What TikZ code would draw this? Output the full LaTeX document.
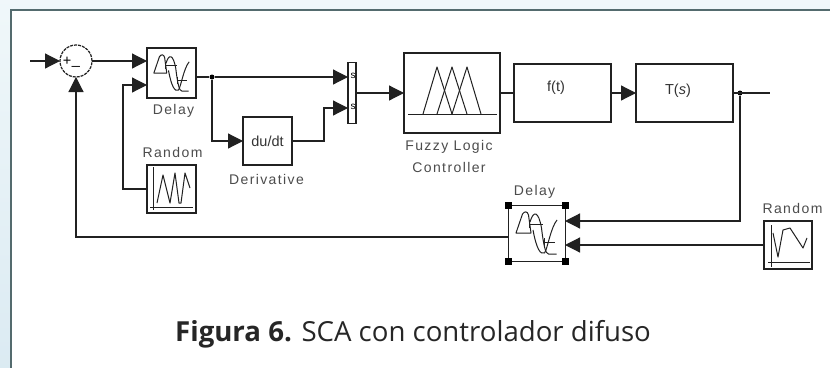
\documentclass[tikz,border=0pt]{standalone}
\usepackage{fontspec}
\setmainfont{Open Sans}
\setsansfont{Liberation Sans}
\newfontfamily\simfont[LetterSpace=10]{Liberation Sans}
\usetikzlibrary{arrows.meta}

\begin{document}
\begin{tikzpicture}[x=1pt,y=-1pt,font=\sffamily]

		\definecolor{FrameGray}{rgb}{0.33,0.42,0.43}
		\definecolor{PageBlue}{rgb}{0.94,0.97,0.98}
		\definecolor{PageBlueDark}{rgb}{0.86,0.92,0.95}
		\definecolor{LineGray}{rgb}{0.13,0.13,0.13}

		\tikzset{
			simBlock/.style={
				draw=LineGray,
				line width=1.2pt,
				inner sep=0,
				outer sep=0pt,
			},
			simLabel/.style={
				font=\simfont\fontsize{14}{16}\selectfont,
				text=black!70,
				inner sep=0,
				align=center,
			},
			simText/.style={
				font=\sffamily\fontsize{14.5}{16}\selectfont,
				text=black!80,
				inner sep=0,
			},
			simWire/.style={
				draw=LineGray,
				line width=1.2pt,
			},
			simArrow/.style={
				simWire,
				-{Triangle[length=15pt,width=15pt]},
			},
			simIcon/.style={
				draw=LineGray,
				line width=1pt,
				line join=round,
			},
			simDot/.style={
				circle,
				fill=black,
				minimum size=5pt,
				inner sep=0,
			},
			delayIcon/.pic={
				\draw[simIcon] (-20.5,0) -- (-14,-19) .. controls (-12,-22) and (-9,-22) .. (-8,-18) -- (-5.5,0) -- cycle;
				\draw[simIcon] (-6.5,-11) .. controls (-3,-23) and (2,-22) .. (5,-5) .. controls (7,12) and (9,21) .. (12,21) -- (20,21);
				\draw[simIcon] (-3.5,-3) .. controls (0,16) and (4,22) .. (8,20) .. controls (11,16) and (14,-5) .. (20.5,-13);
				\draw[simIcon] (-7,-13) -- (-7,-5);
				\draw[simIcon] (-7,-9) -- (6,-9);
				\draw[simIcon] (7.5,5) -- (7.5,13);
				\draw[simIcon] (7.5,9) -- (18,9);
			},
		}

		% Background
		\useasboundingbox (0,0) rectangle (830,367);
		\shade[top color=PageBlue,bottom color=PageBlueDark] (0,0) rectangle (830,367);
		\fill[white] (11,10) rectangle (832,369);
		\draw[FrameGray,line width=2.4pt] (11,369) -- (11,10) -- (832,10);

		% Sum
		\node[simBlock,circle,dash pattern=on 3pt off 1pt,minimum size=32pt] (sum) at (76,61) {};
		\node[simText,text=black] (plus) at (67,61) {+};
		\node[simText,text=black] (minus) at (76,66) {\_};
		\coordinate (start) at (30,61);

		% Delay
		\node[simBlock,minimum width=49pt,minimum height=50pt] (delayIn) at (171.5,73) {};
		\node[simLabel] (delayInLabel) at (173.5,111) {Delay};
		\pic[scale=0.86] (delayInIcon) at (171.5,73) {delayIcon};

		% Random
		\node[simBlock,minimum width=49pt,minimum height=48pt] (randomIn) at (171.5,189) {};
		\node[simLabel] (randomInLabel) at (172.5,152) {Random};
		\draw[simIcon] (153,167) -- (153,210);
		\draw[simIcon] (150,207) -- (193,207);
		\draw[simIcon] (157,203) -- (163,175) -- (170,203) -- (175,173) -- (179,203) -- (181,203) -- (185,173) -- (190,188);

		% Derivative
		\node[simBlock,minimum width=49pt,minimum height=48pt,simText] (deriv) at (267.5,141) {du/dt};
		\node[simLabel] (derivLabel) at (266.5,179) {Derivative};

		% Mux
		\node[simBlock,minimum width=8pt,minimum height=61pt] (mux) at (352,93) {};
		\node[inner sep=0,font=\sffamily\fontsize{10}{11}\selectfont] (muxA) at (353,76) {s};
		\node[inner sep=0,font=\sffamily\fontsize{10}{11}\selectfont] (muxB) at (353,107) {s};

		% Fuzzy
		\node[simBlock,minimum width=96pt,minimum height=80pt] (fuzzy) at (452,93) {};
		\node[simLabel] (fuzzyLabel) at (449,147) {Fuzzy Logic};
		\node[simLabel] (fuzzyLabelB) at (449,167) {Controller};
		\draw[simIcon] (408,114) -- (497,114);
		\draw[simIcon] (423,114) -- (437,67) -- (452,114);
		\draw[simIcon] (437,114) -- (452,67) -- (467,114);
		\draw[simIcon] (452,114) -- (467,67) -- (481,114);

		% Function
		\node[simBlock,minimum width=97pt,minimum height=58pt] (func) at (562.5,93) {};
		\node[simText] (funcText) at (556,88) {f(t)};

		% Plant
		\node[simBlock,minimum width=97pt,minimum height=58pt] (plant) at (684.5,93) {};
		\node[simText] (plantText) at (678,91) {T(\textit{s})};

		% Delay in the return path
		\node[simBlock,line width=1pt,minimum width=57pt,minimum height=56pt] (delayOut) at (536.5,233) {};
		\node[simLabel] (delayOutLabel) at (534.5,192) {Delay};
		\foreach \c in {north west,north east,south west,south east} {
			\fill[black] (delayOut.\c) ++(-3.5,-3.5) rectangle ++(7,7);
		}
		\pic (delayOutIcon) at (536.5,233) {delayIcon};

		% Random in the return path
		\node[simBlock,minimum width=48pt,minimum height=48pt] (randomOut) at (788,245) {};
		\node[simLabel] (randomOutLabel) at (792.5,208) {Random};
		\draw[simIcon] (771,225) -- (771,267);
		\draw[simIcon] (768,262) -- (810,262);
		\draw[simIcon] (773,233) -- (778,257) -- (783,230) -- (790,228) -- (803,248) -- (807,238);

		% Branch points
		\node[simDot] (branchA) at (212,77) {};
		\node[simDot] (branchB) at (740,93) {};
		\coordinate (outEnd) at (770,93);

		% Ports
		\coordinate (delayInA) at (delayIn.west |- sum);
		\coordinate (delayInB) at (147,85);
		\coordinate (muxInA) at (348,77);
		\coordinate (muxInB) at (348,108);
		\coordinate (delayOutA) at (565,221);
		\coordinate (delayOutB) at (565,245);
		\coordinate (delayOutC) at (508,237);

		% Wires
		\draw[simArrow] (start) -- (sum.west);
		\draw[simArrow] (sum.east) -- (delayInA);
		\draw[simArrow] (randomIn.west) -- ++(-24,0) |- (delayInB);
		\draw[simWire] (delayIn.east |- branchA) -- (branchA);
		\draw[simArrow] (branchA) -- (muxInA);
		\draw[simArrow] (branchA) |- (deriv.west);
		\draw[simArrow] (deriv.east) -- ++(32,0) |- (muxInB);
		\draw[simArrow] (mux.east) -- (fuzzy.west);
		\draw[simWire] (fuzzy.east) -- (func.west);
		\draw[simArrow] (func.east) -- (plant.west);
		\draw[simWire] (plant.east) -- (outEnd);
		\draw[simArrow] (branchB) |- (delayOutA);
		\draw[simArrow] (randomOut.west |- delayOutB) -- (delayOutB);
		\draw[simArrow] (delayOutC) -| (sum.south);

		% Caption
		\node[inner sep=0,anchor=base west,text=black!85,font=\fontsize{27.6}{32}\selectfont] (caption) at (175,341) {\textbf{Figura 6.} SCA con controlador difuso};

\end{tikzpicture}
\end{document}
